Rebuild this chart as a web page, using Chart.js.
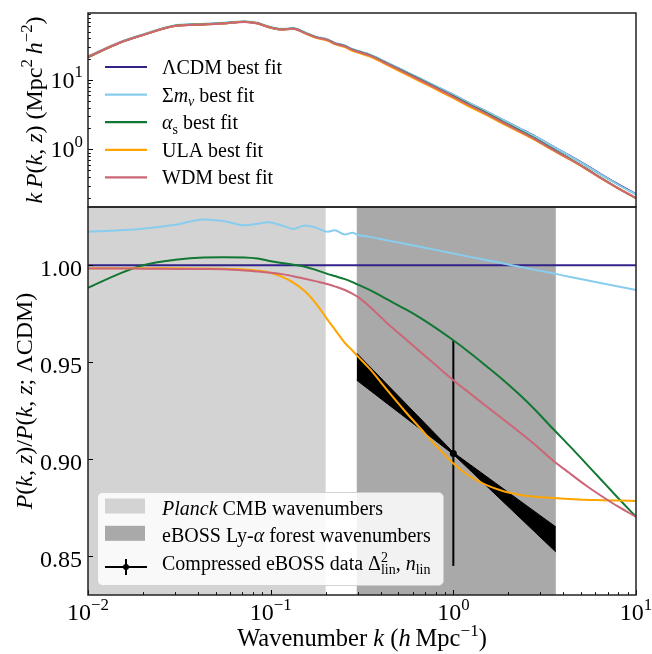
<!DOCTYPE html>
<html>
<head>
<meta charset="utf-8">
<script src="https://cdn.jsdelivr.net/npm/chart.js@4.4.0/dist/chart.umd.min.js"></script>
<style>
html, body { margin: 0; padding: 0; background: #fff; }
canvas { display: block; }
</style>
</head>
<body>
<canvas id="myChart" width="652" height="654"></canvas>
<script>
// wavenumbers k (h/Mpc) shared by every curve
const kGrid = [0.01, 0.015, 0.02, 0.03, 0.043, 0.055, 0.072, 0.085, 0.097, 0.115,
    0.133, 0.154, 0.175, 0.206, 0.224, 0.255, 0.28, 0.3, 0.35, 0.43,
    0.55, 0.656, 0.8, 1.0, 1.23, 1.52, 1.88, 2.3, 2.8, 3.5,
    4.3, 5.3, 6.5, 8, 10];

// top panel: k P(k, z)
const kpLcdm = [21.6, 34.9, 44.9, 60.6, 63.7, 65.9, 69.4, 65.9, 58.6, 53.9,
    55.4, 48.0, 42.0, 38.0, 34.1, 31.1, 27.7, 26.1, 23.0, 17.9,
    13.1, 10.5, 8.13, 6.10, 4.61, 3.51, 2.63, 2.01, 1.54, 1.105,
    0.819, 0.596, 0.427, 0.311, 0.226];
const kpNu = [21.97, 35.5, 45.7, 61.9, 65.2, 67.4, 70.8, 67.3, 59.9, 55.0,
    56.4, 49.0, 42.8, 38.7, 34.7, 31.6, 28.2, 26.5, 23.3, 18.1,
    13.2, 10.6, 8.19, 6.14, 4.63, 3.52, 2.63, 2.01, 1.536, 1.100,
    0.814, 0.591, 0.423, 0.308, 0.223];
const kpAlpha = [21.35, 34.75, 44.9, 60.8, 63.95, 66.2, 69.7, 66.1, 58.7, 53.96,
    55.4, 47.96, 41.9, 37.8, 33.9, 30.9, 27.44, 25.8, 22.7, 17.6,
    12.8, 10.2, 7.87, 5.86, 4.40, 3.33, 2.47, 1.876, 1.425, 1.012,
    0.743, 0.535, 0.380, 0.274, 0.197];
const kpUla = [21.57, 34.84, 44.83, 60.5, 63.6, 65.8, 69.25, 65.7, 58.4, 53.6,
    54.9, 47.4, 41.2, 36.9, 33.0, 29.85, 26.46, 24.9, 21.8, 16.76,
    12.1, 9.62, 7.38, 5.48, 4.11, 3.11, 2.32, 1.772, 1.356, 0.972,
    0.720, 0.524, 0.375, 0.273, 0.199];
const kpWdm = [21.56, 34.84, 44.82, 60.49, 63.57, 65.76, 69.21, 65.68, 58.38, 53.65,
    55.08, 47.66, 41.66, 37.63, 33.7, 30.68, 27.27, 25.66, 22.49, 17.36,
    12.6, 10.03, 7.71, 5.74, 4.31, 3.26, 2.42, 1.838, 1.397, 0.993,
    0.731, 0.528, 0.376, 0.272, 0.197];

// bottom panel: P(k, z) / P(k, z; LCDM)
const ratioLcdm = kGrid.map(() => 1.0); // reference model, 1 by definition
const ratioNu = [1.0172, 1.0180, 1.0188, 1.0208, 1.0236, 1.0228, 1.0206, 1.0214, 1.0222, 1.0205,
    1.0187, 1.0205, 1.0195, 1.0172, 1.0180, 1.0158, 1.0167, 1.0156, 1.0146, 1.0129,
    1.0109, 1.0095, 1.0079, 1.0060, 1.0043, 1.0026, 1.0009, 0.9992, 0.9976, 0.9958,
    0.9941, 0.9924, 0.9907, 0.9890, 0.9872];
const ratioAlpha = [0.9883, 0.9958, 1.0000, 1.0028, 1.0040, 1.0041, 1.0040, 1.0034, 1.0023, 1.0011,
    1.0003, 0.9992, 0.9977, 0.9954, 0.9944, 0.9928, 0.9913, 0.9900, 0.9872, 0.9826,
    0.9772, 0.9730, 0.9677, 0.9613, 0.9549, 0.9479, 0.9407, 0.9333, 0.9255, 0.9158,
    0.9071, 0.8980, 0.8890, 0.8799, 0.8703];
const ratioUla = [0.9984, 0.9984, 0.9984, 0.9984, 0.9983, 0.9982, 0.9978, 0.9972, 0.9964, 0.9941,
    0.9910, 0.9866, 0.9809, 0.9716, 0.9670, 0.9599, 0.9560, 0.9530, 0.9464, 0.9361,
    0.9242, 0.9162, 0.9072, 0.8978, 0.8912, 0.8866, 0.8835, 0.8817, 0.8807, 0.8800,
    0.8795, 0.8791, 0.8789, 0.8787, 0.8785];
const ratioWdm = [0.9983, 0.9983, 0.9982, 0.9981, 0.9980, 0.9979, 0.9973, 0.9967, 0.9962, 0.9954,
    0.9943, 0.9930, 0.9918, 0.9902, 0.9891, 0.9872, 0.9853, 0.9837, 0.9785, 0.9705,
    0.9618, 0.9555, 0.9485, 0.9407, 0.9340, 0.9272, 0.9205, 0.9140, 0.9075, 0.8995,
    0.8930, 0.8866, 0.8809, 0.8755, 0.8703];

const modelLabels = ['ΛCDM best fit', 'Σ*m*_{*ν*} best fit', '*α*_{s} best fit', 'ULA best fit', 'WDM best fit'];

// compressed eBOSS constraint
const bowK = [0.296, 1.0, 3.64];
const bowUpper = [0.9546, 0.9035, 0.8651];
const bowLower = [0.9407, 0.9025, 0.8522];
const dataK = [1.0];
const dataVal = [0.903];
const dataLow = [0.845];
const dataHigh = [0.9613];

// wavenumber ranges
const bandLow = [0.01, 0.296];
const bandHigh = [0.2, 3.64];
const bandLabels = ['*Planck* CMB wavenumbers', 'eBOSS Ly-*α* forest wavenumbers'];
const dataLabel = 'Compressed eBOSS data Δ^{2}_{lin}, *n*_{lin}';

// ticks
const xTicks = [0.01, 0.1, 1, 10];
const xTickLabels = ['10^{−2}', '10^{−1}', '10^{0}', '10^{1}'];
const yTopTicks = [1, 10];
const yTopTickLabels = ['10^{0}', '10^{1}'];
const yBotTicks = [0.85, 0.90, 0.95, 1.00];
const yBotTickLabels = ['0.85', '0.90', '0.95', '1.00'];

const colors = ['#332288', '#88CCEE', '#117733', '#FFA500', '#CC6677'];
const bandColors = ['#d3d3d3', '#a9a9a9'];
const FONT = '"Liberation Serif", "Times New Roman", serif';

// tiny markup: *italic*, ^{sup}, _{sub}
function parseRich(str) {
    const runs = [];
    let italic = false, script = 0, buf = '';
    const push = () => { if (buf) runs.push({ t: buf, it: italic, sc: script }); buf = ''; };
    for (let i = 0; i < str.length; i++) {
        const c = str[i];
        if (c === '*') { push(); italic = !italic; }
        else if ((c === '^' || c === '_') && str[i + 1] === '{') { push(); script = c === '^' ? 1 : -1; i++; }
        else if (c === '}' && script !== 0) { push(); script = 0; }
        else buf += c;
    }
    push();
    return runs;
}

function layoutRich(ctx, runs, size) {
    let x = 0, prev = 0, supStart = null, supEnd = null;
    const items = [];
    runs.forEach(r => {
        const fs = r.sc ? size * 0.7 : size;
        const font = (r.it ? 'italic ' : '') + fs + 'px ' + FONT;
        if (r.sc === 1 && prev !== 1) supStart = x;
        if (r.sc === -1 && prev === 1) { supEnd = x; x = supStart; }
        if (r.sc !== -1 && prev === -1 && supEnd !== null) { x = Math.max(x, supEnd); supEnd = null; }
        ctx.font = font;
        const w = ctx.measureText(r.t).width;
        items.push({ t: r.t, font, x, dy: r.sc === 1 ? -size * 0.42 : r.sc === -1 ? size * 0.22 : 0 });
        x += w;
        prev = r.sc;
    });
    if (supEnd !== null) x = Math.max(x, supEnd);
    return { items, width: x };
}

function drawRich(ctx, str, x, y, size, align, rot) {
    const L = layoutRich(ctx, parseRich(str), size);
    ctx.save();
    ctx.translate(x, y);
    if (rot) ctx.rotate(rot);
    const x0 = align === 'center' ? -L.width / 2 : align === 'right' ? -L.width : 0;
    ctx.fillStyle = '#000';
    ctx.textAlign = 'left';
    ctx.textBaseline = 'alphabetic';
    L.items.forEach(it => { ctx.font = it.font; ctx.fillText(it.t, x0 + it.x, it.dy); });
    ctx.restore();
}

const line = (ctx, x1, y1, x2, y2) => {
    ctx.beginPath();
    ctx.moveTo(x1, y1);
    ctx.lineTo(x2, y2);
    ctx.stroke();
};

const decor = {
    id: 'decor',
    beforeDatasetsDraw(chart) {
        const { ctx, scales: { x, yBot } } = chart;
        ctx.save();
        bandLow.forEach((lo, i) => {
            const x0 = Math.max(x.getPixelForValue(lo), x.left);
            const x1 = Math.min(x.getPixelForValue(bandHigh[i]), x.right);
            ctx.fillStyle = bandColors[i];
            ctx.fillRect(x0, yBot.top, x1 - x0, yBot.bottom - yBot.top);
        });
        ctx.restore();
    },
    afterDraw(chart) {
        const { ctx, scales: { x, yTop, yBot } } = chart;
        ctx.save();

        // ticks, pointing inwards
        ctx.strokeStyle = '#000';
        ctx.lineWidth = 1;
        for (let e = -2; e <= 1; e++) {
            for (let m = 1; m <= 9; m++) {
                const v = m * Math.pow(10, e);
                if (v > 10.0001) continue;
                const px = Math.round(x.getPixelForValue(v)) + 0.5;
                line(ctx, px, yBot.bottom, px, yBot.bottom - (m === 1 ? 5 : 2.8));
            }
        }
        for (let e = -1; e <= 1; e++) {
            for (let m = 1; m <= 9; m++) {
                const v = m * Math.pow(10, e);
                if (v < yTop.min || v > yTop.max) continue;
                const py = Math.round(yTop.getPixelForValue(v)) + 0.5;
                line(ctx, x.left, py, x.left + (m === 1 ? 5 : 2.8), py);
            }
        }
        yBotTicks.forEach(v => {
            const py = Math.round(yBot.getPixelForValue(v)) + 0.5;
            line(ctx, x.left, py, x.left + 5, py);
        });

        // frames
        ctx.strokeStyle = '#222';
        ctx.lineWidth = 1.5;
        ctx.strokeRect(x.left, yTop.top, x.right - x.left, yTop.bottom - yTop.top);
        ctx.strokeRect(x.left, yBot.top, x.right - x.left, yBot.bottom - yBot.top);

        // tick labels
        xTicks.forEach((v, i) => drawRich(ctx, xTickLabels[i], x.getPixelForValue(v), 620, 24, 'center'));
        yTopTicks.forEach((v, i) => drawRich(ctx, yTopTickLabels[i], 83, yTop.getPixelForValue(v) + 7.5, 24, 'right'));
        yBotTicks.forEach((v, i) => drawRich(ctx, yBotTickLabels[i], 82, yBot.getPixelForValue(v) + 10.5, 24, 'right'));

        // axis titles
        drawRich(ctx, 'Wavenumber *k* (*h*\u2009Mpc^{−1})', (x.left + x.right) / 2, 646, 24.5, 'center');
        drawRich(ctx, '*k*\u2009*P*(*k*, *z*) (Mpc^{2}\u2009*h*^{−2})', 42, (yTop.top + yTop.bottom) / 2, 24, 'center', -Math.PI / 2);
        drawRich(ctx, '*P*(*k*, *z*)/*P*(*k*, *z*; ΛCDM)', 32, (yBot.top + yBot.bottom) / 2, 24, 'center', -Math.PI / 2);

        // top legend
        modelLabels.forEach((lab, i) => {
            const base = 74 + 27.6 * i;
            ctx.strokeStyle = colors[i];
            ctx.lineWidth = 2.2;
            line(ctx, 105, base - 7, 147, base - 7);
            drawRich(ctx, lab, 162, base, 20, 'left');
        });

        // bottom legend
        ctx.fillStyle = 'rgba(255,255,255,0.85)';
        ctx.strokeStyle = 'rgba(204,204,204,0.85)';
        ctx.lineWidth = 1;
        ctx.beginPath();
        ctx.roundRect(97.5, 492.5, 346, 93, 5);
        ctx.fill();
        ctx.stroke();
        bandLabels.forEach((lab, i) => {
            const base = 515 + 27.3 * i;
            ctx.fillStyle = bandColors[i];
            ctx.fillRect(105, base - 16.5, 40, 15);
            drawRich(ctx, lab, 162, base, 20, 'left');
        });
        const eb = 570;
        ctx.strokeStyle = '#000';
        ctx.lineWidth = 2;
        line(ctx, 105, eb - 3, 147, eb - 3);
        line(ctx, 126, eb - 11, 126, eb + 5);
        ctx.fillStyle = '#000';
        ctx.beginPath();
        ctx.arc(126, eb - 3, 3, 0, Math.PI * 2);
        ctx.fill();
        drawRich(ctx, dataLabel, 162, eb, 20, 'left');

        ctx.restore();
    }
};

const pts = (k, vals) => k.map((x, i) => ({ x, y: vals[i] }));
const curve = (label, vals, color, axis, order) => ({
    label, data: pts(kGrid, vals), yAxisID: axis, borderColor: color, borderWidth: 2,
    pointRadius: 0, cubicInterpolationMode: 'monotone', fill: false, order
});

const initChart = () => {
    const ctx = document.getElementById('myChart').getContext('2d');
    const topVals = [kpLcdm, kpNu, kpAlpha, kpUla, kpWdm];
    const botVals = [ratioLcdm, ratioNu, ratioAlpha, ratioUla, ratioWdm];
    const datasets = [
        {
            label: 'bow upper', data: pts(bowK, bowUpper), yAxisID: 'yBot', borderColor: '#000',
            borderWidth: 1, backgroundColor: '#000', pointRadius: 0, tension: 0, fill: '+1', order: 40
        },
        {
            label: 'bow lower', data: pts(bowK, bowLower), yAxisID: 'yBot', borderColor: '#000',
            borderWidth: 1, pointRadius: 0, tension: 0, fill: false, order: 39
        },
        {
            label: 'error bar', data: [{ x: dataK[0], y: dataLow[0] }, { x: dataK[0], y: dataHigh[0] }],
            yAxisID: 'yBot', borderColor: '#000', borderWidth: 2, pointRadius: 0, fill: false, order: 38
        },
        {
            label: 'data', data: pts(dataK, dataVal), yAxisID: 'yBot', showLine: false,
            pointRadius: 3.5, pointBackgroundColor: '#000', pointBorderWidth: 0, order: 37
        }
    ];
    modelLabels.forEach((lab, i) => {
        datasets.push(curve(lab, topVals[i], colors[i], 'yTop', 15 - i));
        datasets.push(curve(lab, botVals[i], colors[i], 'yBot', 35 - i));
    });

    const hidden = { ticks: { display: false }, grid: { display: false }, border: { display: false } };
    new Chart(ctx, {
        type: 'line',
        data: { datasets },
        options: {
            responsive: false,
            animation: false,
            devicePixelRatio: 1,
            layout: { padding: { top: 13, right: 16, left: 0, bottom: 0 } },
            plugins: { legend: { display: false }, tooltip: { enabled: false } },
            scales: {
                x: { type: 'logarithmic', min: 0.01, max: 10, position: 'bottom', ...hidden,
                    afterFit: s => { s.height = 59; } },
                yBot: { type: 'linear', min: 0.83, max: 1.03, position: 'left', stack: 'panels',
                    stackWeight: 2, ...hidden, afterFit: s => { s.width = 88; } },
                yTop: { type: 'logarithmic', min: 0.147, max: 93, position: 'left', stack: 'panels',
                    stackWeight: 1, ...hidden, afterFit: s => { s.width = 88; } }
            }
        },
        plugins: [decor]
    });
};

document.addEventListener('DOMContentLoaded', initChart);
</script>
</body>
</html>
